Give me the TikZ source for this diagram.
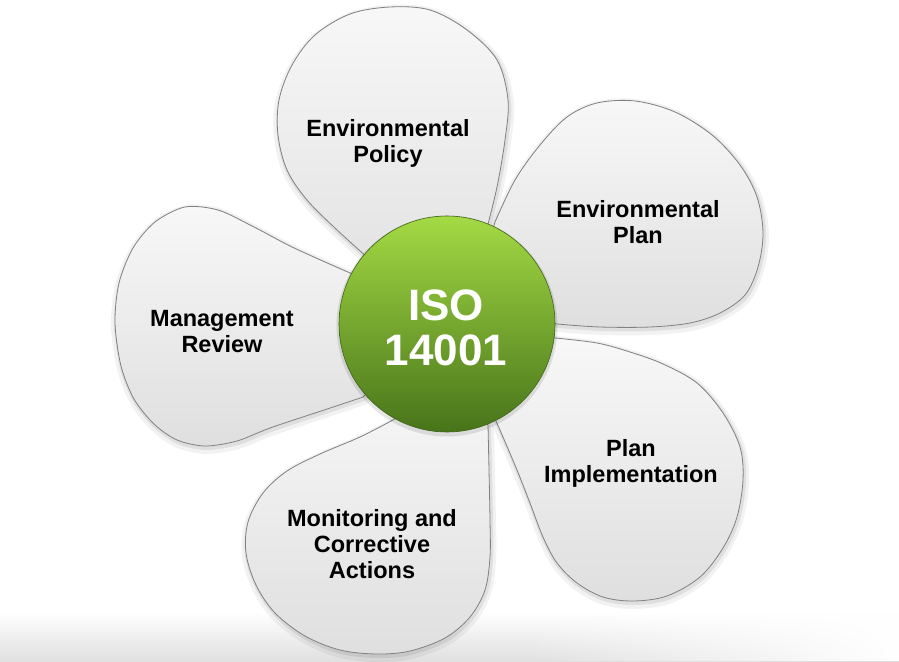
\documentclass[tikz,border=0pt]{standalone}
\usepackage{fontspec}
\setmainfont{Liberation Sans}
\usetikzlibrary{fadings}
\definecolor{leafTop}{RGB}{164,218,68}
\definecolor{leafBot}{RGB}{72,116,26}
\definecolor{petalEdge}{RGB}{128,128,128}
\definecolor{petalBot}{RGB}{223,223,223}
\definecolor{bandGray}{RGB}{224,224,224}
\begin{document}
\begin{tikzpicture}[x=1pt,y=-1pt,
  petal/.style={top color=white!97!black, bottom color=petalBot, draw=petalEdge, line width=0.8pt, line join=round,
    preaction={draw=black, draw opacity=0.05, line width=10pt, transform canvas={xshift=1pt,yshift=-3pt}},
    preaction={draw=black, draw opacity=0.08, line width=4pt, transform canvas={xshift=1pt,yshift=-2pt}}},
  lbl/.style={font=\fontsize{23.5}{26}\selectfont\bfseries, align=center, inner sep=0pt, text=black},
  hub/.style={circle, minimum size=216pt, inner sep=0pt, top color=leafTop, bottom color=leafBot,
    draw=leafBot!85!black, line width=0.6pt,
    preaction={draw=black, draw opacity=0.10, line width=5pt, transform canvas={yshift=-2pt}}},
  hubtext/.style={text=white, font=\fontsize{44}{45}\selectfont\bfseries, align=center, inner sep=0pt}]
\useasboundingbox (0,0) rectangle (899,661);
\fill[white] (0,0) rectangle (899,661);
% bottom band
\fill[top color=white, bottom color=bandGray] (0,612) rectangle (899,661);
\fill[white, path fading=west] (520,600) rectangle (899,661);

% top petal
\path[petal] plot[smooth, tension=0.55] coordinates {(487,228) (497,187) (505,140) (508,100) (497,60) (467,30) (430,10) (390,7) (350,14) (315,35) (292,65) (279,100) (278,135) (287,170) (307,200) (336,229) (368,258)} -- (440,320) -- cycle;
% left petal
\path[petal] plot[smooth, tension=0.5] coordinates {(363,397) (318,412) (270,428) (237,441) (205,446) (177,440) (154,424) (134,399) (121,366) (115,323) (119,283) (133,248) (155,222) (185,207) (218,210) (252,226) (290,246) (325,262) (357,276)} -- (430,330) -- cycle;
% bottom petal
\path[petal] plot[smooth, tension=0.55] coordinates {(488,425) (489,470) (490,520) (490,557) (485,590) (470,617) (445,638) (410,651) (377,654) (340,650) (305,636) (275,613) (256,585) (246,553) (248,522) (263,493) (287,471) (320,454) (360,437) (393,420)} -- (450,380) -- cycle;
% lower right petal
\path[petal] plot[smooth, tension=0.55] coordinates {(555,338) (597,343) (630,352) (663,364) (697,383) (723,413) (740,447) (743,480) (737,517) (723,548) (700,577) (667,596) (633,601) (603,597) (577,583) (557,563) (543,537) (530,503) (517,470) (503,437) (492,412)} -- (465,345) -- cycle;
% upper right petal
\path[petal] plot[smooth, tension=0.55] coordinates {(557,324) (600,327) (650,327) (690,323) (720,313) (745,295) (758,267) (763,233) (757,197) (740,165) (712,135) (675,112) (635,101) (597,103) (567,117) (540,145) (515,180) (495,222)} -- (470,310) -- cycle;

% hub
\node[hub] (hub) at (447,324) {};
\node[hubtext] (iso) at (446,328) {ISO\\14001};

% labels
\node[lbl] (policy) at (388,143) {Environmental\\Policy};
\node[lbl] (plan) at (638,222) {Environmental\\Plan};
\node[lbl] (review) at (222,332) {Management\\Review};
\node[lbl] (impl) at (631,463) {Plan\\Implementation};
\node[lbl] (monitor) at (372,544) {Monitoring and\\Corrective\\Actions};
\end{tikzpicture}
\end{document}
